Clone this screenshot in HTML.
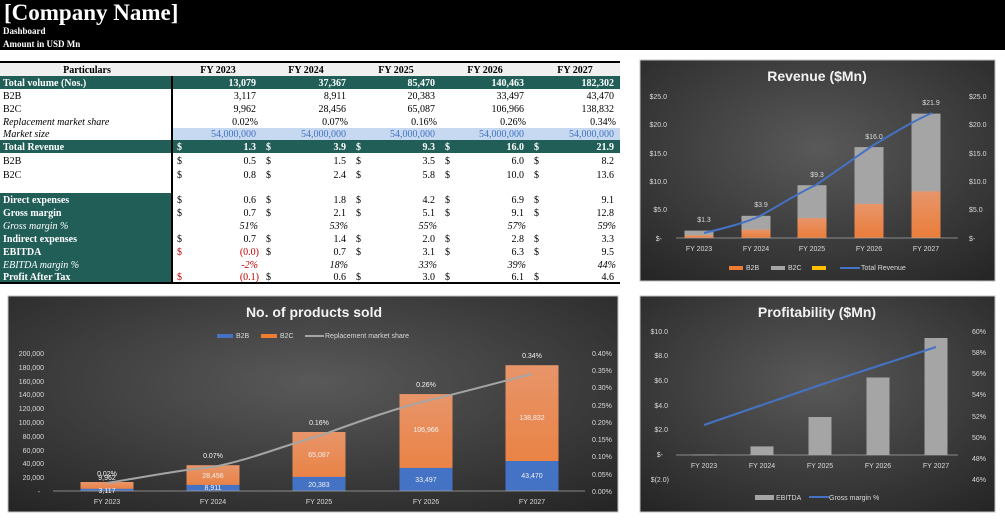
<!DOCTYPE html>
<html><head><meta charset="utf-8"><style>
html,body{margin:0;padding:0;background:#fff;}
svg{display:block;}
.t{font-family:"Liberation Serif",serif;font-size:10px;fill:#000;}
.b{font-weight:bold;}
.w{fill:#fff;}
.i{font-style:italic;}
.c{font-family:"Liberation Sans",sans-serif;font-size:7px;fill:#d9d9d9;}
.ttl{font-family:"Liberation Sans",sans-serif;font-size:14px;font-weight:bold;fill:#f2f2f2;}
</style></head><body>
<svg width="1005" height="523" xmlns="http://www.w3.org/2000/svg">
<defs>
<radialGradient id="bg" cx="50%" cy="40%" r="75%">
<stop offset="0" stop-color="#595959"/><stop offset="1" stop-color="#262626"/></radialGradient>
<linearGradient id="or" x1="0" y1="0" x2="0" y2="1"><stop offset="0" stop-color="#e8956a"/><stop offset="1" stop-color="#ea7d3a"/></linearGradient>
</defs>
<rect x="0" y="0" width="1005" height="50" fill="#000"/>
<text x="4" y="20" style="font-family:'Liberation Serif',serif;font-size:23px;font-weight:bold;fill:#fff">[Company Name]</text>
<text x="3" y="34" class="t b w" style="font-size:9px">Dashboard</text>
<text x="3" y="47" class="t b w" style="font-size:9px">Amount in USD Mn</text>

<!-- table -->
<rect x="0" y="61" width="620" height="2" fill="#000"/>
<rect x="0" y="63" width="620" height="13" fill="#f0f0f0"/>
<g class="t b"><text x="87" y="73" text-anchor="middle">Particulars</text>
<text x="218" y="73" text-anchor="middle">FY 2023</text><text x="306" y="73" text-anchor="middle">FY 2024</text><text x="396" y="73" text-anchor="middle">FY 2025</text><text x="485" y="73" text-anchor="middle">FY 2026</text><text x="575" y="73" text-anchor="middle">FY 2027</text></g>
<rect x="0" y="76" width="620" height="13" fill="#215e57"/>
<rect x="172" y="128" width="448" height="12" fill="#c6d9f0"/>
<rect x="0" y="140" width="620" height="13" fill="#215e57"/>
<rect x="0" y="193" width="172" height="89" fill="#215e57"/>
<rect x="171" y="76" width="2" height="206" fill="#000"/>
<rect x="0" y="282" width="620" height="2" fill="#000"/>
<g class="t">
<text x="3" y="86" class="t b w">Total volume (Nos.)</text>
<g class="b w" text-anchor="end"><text x="256" y="86">13,079</text><text x="346" y="86">37,367</text><text x="435" y="86">85,470</text><text x="524" y="86">140,463</text><text x="614" y="86">182,302</text></g>
<text x="3" y="99">B2B</text>
<g text-anchor="end"><text x="256" y="99">3,117</text><text x="346" y="99">8,911</text><text x="435" y="99">20,383</text><text x="524" y="99">33,497</text><text x="614" y="99">43,470</text></g>
<text x="3" y="112">B2C</text>
<g text-anchor="end"><text x="256" y="112">9,962</text><text x="346" y="112">28,456</text><text x="435" y="112">65,087</text><text x="524" y="112">106,966</text><text x="614" y="112">138,832</text></g>
<text x="3" y="125" class="i">Replacement market share</text>
<g text-anchor="end"><text x="258" y="125">0.02%</text><text x="348" y="125">0.07%</text><text x="437" y="125">0.16%</text><text x="526" y="125">0.26%</text><text x="616" y="125">0.34%</text></g>
<text x="3" y="137" class="i">Market size</text>
<g text-anchor="end" style="fill:#4472c4"><text x="256" y="137">54,000,000</text><text x="346" y="137">54,000,000</text><text x="435" y="137">54,000,000</text><text x="524" y="137">54,000,000</text><text x="614" y="137">54,000,000</text></g>
<text x="3" y="150" class="b w">Total Revenue</text>
<g class="b w"><text x="177" y="150">$</text><text x="266" y="150">$</text><text x="356" y="150">$</text><text x="445" y="150">$</text><text x="534" y="150">$</text></g>
<g class="b w" text-anchor="end"><text x="256" y="150">1.3</text><text x="346" y="150">3.9</text><text x="435" y="150">9.3</text><text x="524" y="150">16.0</text><text x="614" y="150">21.9</text></g>
<text x="3" y="164">B2B</text>
<g><text x="177" y="164">$</text><text x="266" y="164">$</text><text x="356" y="164">$</text><text x="445" y="164">$</text><text x="534" y="164">$</text></g>
<g text-anchor="end"><text x="256" y="164">0.5</text><text x="346" y="164">1.5</text><text x="435" y="164">3.5</text><text x="524" y="164">6.0</text><text x="614" y="164">8.2</text></g>
<text x="3" y="178">B2C</text>
<g><text x="177" y="178">$</text><text x="266" y="178">$</text><text x="356" y="178">$</text><text x="445" y="178">$</text><text x="534" y="178">$</text></g>
<g text-anchor="end"><text x="256" y="178">0.8</text><text x="346" y="178">2.4</text><text x="435" y="178">5.8</text><text x="524" y="178">10.0</text><text x="614" y="178">13.6</text></g>

<text x="3" y="203" class="b w">Direct expenses</text>
<g><text x="177" y="203">$</text><text x="266" y="203">$</text><text x="356" y="203">$</text><text x="445" y="203">$</text><text x="534" y="203">$</text></g>
<g text-anchor="end"><text x="256" y="203">0.6</text><text x="346" y="203">1.8</text><text x="435" y="203">4.2</text><text x="524" y="203">6.9</text><text x="614" y="203">9.1</text></g>
<text x="3" y="216" class="b w">Gross margin</text>
<g><text x="177" y="216">$</text><text x="266" y="216">$</text><text x="356" y="216">$</text><text x="445" y="216">$</text><text x="534" y="216">$</text></g>
<g text-anchor="end"><text x="256" y="216">0.7</text><text x="346" y="216">2.1</text><text x="435" y="216">5.1</text><text x="524" y="216">9.1</text><text x="614" y="216">12.8</text></g>
<text x="3" y="229" class="i w">Gross margin %</text>
<g text-anchor="end" class="i"><text x="258" y="229">51%</text><text x="348" y="229">53%</text><text x="437" y="229">55%</text><text x="526" y="229">57%</text><text x="616" y="229">59%</text></g>
<text x="3" y="242" class="b w">Indirect expenses</text>
<g><text x="177" y="242">$</text><text x="266" y="242">$</text><text x="356" y="242">$</text><text x="445" y="242">$</text><text x="534" y="242">$</text></g>
<g text-anchor="end"><text x="256" y="242">0.7</text><text x="346" y="242">1.4</text><text x="435" y="242">2.0</text><text x="524" y="242">2.8</text><text x="614" y="242">3.3</text></g>
<text x="3" y="255" class="b w">EBITDA</text>
<g><text x="177" y="255" style="fill:#c00000">$</text><text x="266" y="255">$</text><text x="356" y="255">$</text><text x="445" y="255">$</text><text x="534" y="255">$</text></g>
<g text-anchor="end"><text x="259" y="255" style="fill:#c00000">(0.0)</text><text x="346" y="255">0.7</text><text x="435" y="255">3.1</text><text x="524" y="255">6.3</text><text x="614" y="255">9.5</text></g>
<text x="3" y="268" class="i w">EBITDA margin %</text>
<g text-anchor="end" class="i"><text x="258" y="268" style="fill:#c00000">-2%</text><text x="348" y="268">18%</text><text x="437" y="268">33%</text><text x="526" y="268">39%</text><text x="616" y="268">44%</text></g>
<text x="3" y="280" class="b w">Profit After Tax</text>
<g><text x="177" y="280" style="fill:#c00000">$</text><text x="266" y="280">$</text><text x="356" y="280">$</text><text x="445" y="280">$</text><text x="534" y="280">$</text></g>
<g text-anchor="end"><text x="259" y="280" style="fill:#c00000">(0.1)</text><text x="346" y="280">0.6</text><text x="435" y="280">3.0</text><text x="524" y="280">6.1</text><text x="614" y="280">4.6</text></g>
</g>

<!-- Revenue chart -->
<rect x="640" y="60" width="355" height="221" fill="url(#bg)" stroke="#bfbfbf" stroke-width="1"/>
<text x="817" y="81" text-anchor="middle" class="ttl">Revenue ($Mn)</text>
<g class="c" text-anchor="end"><text x="667" y="99">$25.0</text><text x="667" y="127">$20.0</text><text x="667" y="156">$15.0</text><text x="667" y="184">$10.0</text><text x="667" y="212">$5.0</text><text x="662" y="241">$-</text></g>
<g class="c"><text x="969" y="99">$25.0</text><text x="969" y="127">$20.0</text><text x="969" y="156">$15.0</text><text x="969" y="184">$10.0</text><text x="969" y="212">$5.0</text><text x="969" y="241">$-</text></g>
<g fill="#a5a5a5"><rect x="684.5" y="230.6" width="29" height="7.4"/><rect x="741.5" y="215.8" width="29" height="22.2"/><rect x="797.5" y="185.2" width="29" height="52.8"/><rect x="854.5" y="147.1" width="29" height="90.9"/><rect x="911.5" y="113.6" width="29" height="124.4"/></g>
<g fill="url(#or)"><rect x="684.5" y="235.2" width="29" height="2.8"/><rect x="741.5" y="229.5" width="29" height="8.5"/><rect x="797.5" y="218.1" width="29" height="19.9"/><rect x="854.5" y="203.9" width="29" height="34.1"/><rect x="911.5" y="191.4" width="29" height="46.6"/></g>
<line x1="676" y1="238" x2="958" y2="238" stroke="#a6a6a6" stroke-width="0.8"/>
<path d="M704,233 C725,228 745,223 760,216 C780,205 800,192 816,185 C835,172 852,160 872,146 C892,134 915,120 932,113" fill="none" stroke="#4472c4" stroke-width="2"/>
<g class="c" text-anchor="middle"><text x="704" y="222">$1.3</text><text x="761" y="207">$3.9</text><text x="817" y="177">$9.3</text><text x="874" y="139">$16.0</text><text x="931" y="105">$21.9</text>
<text x="699" y="251">FY 2023</text><text x="756" y="251">FY 2024</text><text x="812" y="251">FY 2025</text><text x="869" y="251">FY 2026</text><text x="926" y="251">FY 2027</text></g>
<rect x="729" y="266" width="14" height="4" fill="#ed7d31"/><text x="746" y="270" class="c">B2B</text>
<rect x="771" y="266" width="14" height="4" fill="#a5a5a5"/><text x="788" y="270" class="c">B2C</text>
<rect x="812" y="266" width="14" height="4" fill="#ffc000"/>
<line x1="840" y1="268" x2="860" y2="268" stroke="#4472c4" stroke-width="2"/><text x="861" y="270" class="c">Total Revenue</text>

<!-- Products chart -->
<rect x="8" y="296" width="610" height="216" fill="url(#bg)" stroke="#bfbfbf" stroke-width="1"/>
<text x="314" y="317" text-anchor="middle" class="ttl">No. of products sold</text>
<rect x="217" y="334" width="16" height="4" fill="#4472c4"/><text x="236" y="338" class="c">B2B</text>
<rect x="261" y="334" width="16" height="4" fill="#ed7d31"/><text x="280" y="338" class="c">B2C</text>
<line x1="305" y1="336" x2="324" y2="336" stroke="#a5a5a5" stroke-width="2"/><text x="325" y="338" class="c">Replacement market share</text>
<g class="c" text-anchor="end"><text x="44" y="356">200,000</text><text x="44" y="370">180,000</text><text x="44" y="384">160,000</text><text x="44" y="397">140,000</text><text x="44" y="411">120,000</text><text x="44" y="425">100,000</text><text x="44" y="439">80,000</text><text x="44" y="453">60,000</text><text x="44" y="466">40,000</text><text x="44" y="480">20,000</text><text x="40" y="494">-</text></g>
<g class="c"><text x="592" y="356">0.40%</text><text x="592" y="373">0.35%</text><text x="592" y="390">0.30%</text><text x="592" y="408">0.25%</text><text x="592" y="425">0.20%</text><text x="592" y="442">0.15%</text><text x="592" y="459">0.10%</text><text x="592" y="477">0.05%</text><text x="592" y="494">0.00%</text></g>
<g fill="url(#or)"><rect x="80.5" y="482" width="53" height="9"/><rect x="186.5" y="465.2" width="53" height="25.8"/><rect x="292.5" y="432" width="53" height="59"/><rect x="399.5" y="394.1" width="53" height="96.9"/><rect x="505.5" y="365.2" width="53" height="125.8"/></g>
<g fill="#4472c4"><rect x="80.5" y="488.8" width="53" height="2.2"/><rect x="186.5" y="484.9" width="53" height="6.1"/><rect x="292.5" y="476.9" width="53" height="14.1"/><rect x="399.5" y="467.9" width="53" height="23.1"/><rect x="505.5" y="461" width="53" height="30"/></g>
<line x1="53" y1="491" x2="585" y2="491" stroke="#a6a6a6" stroke-width="0.8"/>
<path d="M107,483 C150,476 180,470 213,467 C250,460 285,445 319,436 C355,423 390,410 426,401 C460,393 500,382 532,374" fill="none" stroke="#a5a5a5" stroke-width="2"/>
<g class="c" text-anchor="middle" style="fill:#f2f2f2"><text x="107" y="476">0.02%</text><text x="107" y="480">9,962</text><text x="107" y="493">3,117</text>
<text x="213" y="458">0.07%</text><text x="213" y="478">28,456</text><text x="213" y="490">8,911</text>
<text x="319" y="425">0.16%</text><text x="319" y="457">65,087</text><text x="319" y="487">20,383</text>
<text x="426" y="387">0.26%</text><text x="426" y="432">106,966</text><text x="426" y="482">33,497</text>
<text x="532" y="358">0.34%</text><text x="532" y="420">138,832</text><text x="532" y="478">43,470</text></g>
<g class="c" text-anchor="middle"><text x="107" y="504">FY 2023</text><text x="213" y="504">FY 2024</text><text x="319" y="504">FY 2025</text><text x="426" y="504">FY 2026</text><text x="532" y="504">FY 2027</text></g>

<!-- Profitability chart -->
<rect x="640" y="296" width="355" height="216" fill="url(#bg)" stroke="#bfbfbf" stroke-width="1"/>
<text x="817" y="317" text-anchor="middle" class="ttl">Profitability ($Mn)</text>
<g class="c" text-anchor="end"><text x="668" y="334">$10.0</text><text x="668" y="358">$8.0</text><text x="668" y="383">$6.0</text><text x="668" y="408">$4.0</text><text x="668" y="432">$2.0</text><text x="663" y="457">$-</text><text x="669" y="482">$(2.0)</text></g>
<g class="c"><text x="972" y="334">60%</text><text x="972" y="355">58%</text><text x="972" y="376">56%</text><text x="972" y="397">54%</text><text x="972" y="419">52%</text><text x="972" y="440">50%</text><text x="972" y="461">48%</text><text x="972" y="482">46%</text></g>
<g fill="#a5a5a5"><rect x="692.5" y="454.5" width="23" height="0.8"/><rect x="750.5" y="446.4" width="23" height="8.6"/><rect x="808.5" y="417" width="23" height="38"/><rect x="866.5" y="377.5" width="23" height="77.5"/><rect x="924.5" y="338" width="23" height="117"/></g>
<line x1="676" y1="455" x2="958" y2="455" stroke="#a6a6a6" stroke-width="0.8"/>
<polyline points="704,425 762,405 820,385 878,366 936,347" fill="none" stroke="#4472c4" stroke-width="2"/>
<g class="c" text-anchor="middle"><text x="704" y="468">FY 2023</text><text x="762" y="468">FY 2024</text><text x="820" y="468">FY 2025</text><text x="878" y="468">FY 2026</text><text x="936" y="468">FY 2027</text></g>
<rect x="755" y="495" width="19" height="5" fill="#a5a5a5"/><text x="776" y="500" class="c">EBITDA</text>
<line x1="809" y1="497" x2="829" y2="497" stroke="#4472c4" stroke-width="2"/><text x="829" y="500" class="c">Gross margin %</text>
</svg>
</body></html>
